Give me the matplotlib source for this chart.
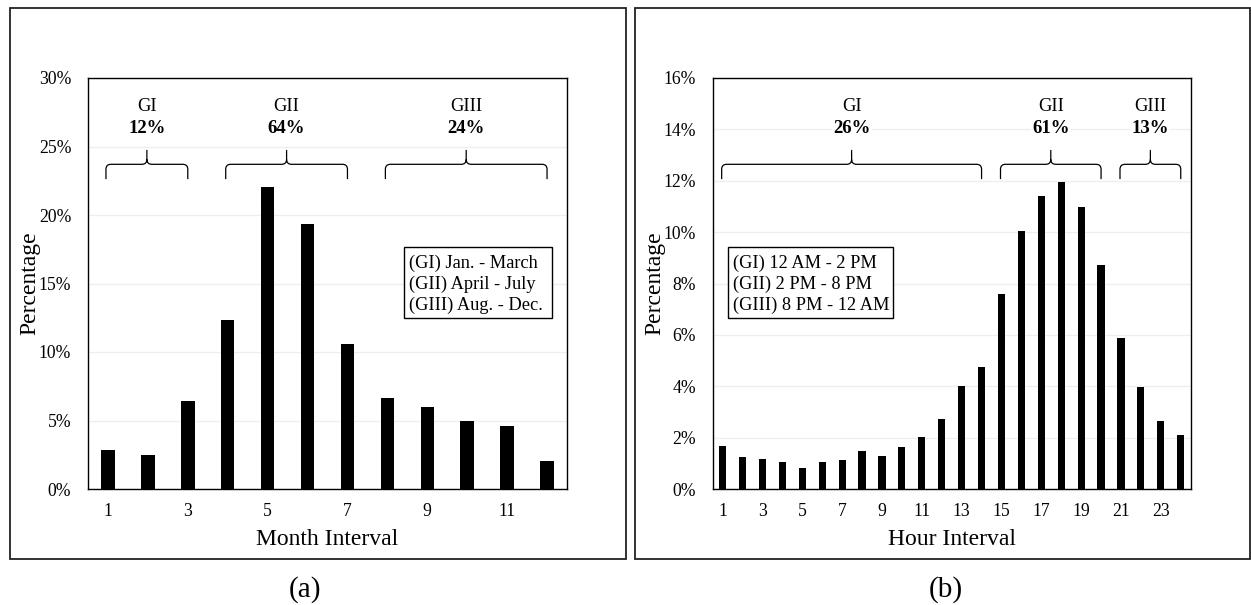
import numpy as np
import matplotlib.pyplot as plt
from matplotlib.path import Path
from matplotlib.patches import PathPatch, Rectangle

plt.rcParams['font.family'] = ['Liberation Serif', 'DejaVu Serif']

# monthly share of events (%)
months = np.arange(1, 13)
month_pct = [2.86, 2.50, 6.43, 12.35, 22.04, 19.33, 10.60, 6.65, 5.95, 4.93, 4.59, 2.01]

# hourly share of events (%)
hours = np.arange(1, 25)
hour_pct = [1.69, 1.23, 1.15, 1.06, 0.80, 1.06, 1.14, 1.49, 1.27, 1.65, 2.02, 2.73,
            4.01, 4.76, 7.58, 10.06, 11.42, 11.95, 10.97, 8.71, 5.87, 3.96, 2.65, 2.09]

# groups: name, first interval, last interval, share label
month_groups = [('GI', 1, 3, '12%'), ('GII', 4, 7, '64%'), ('GIII', 8, 12, '24%')]
hour_groups = [('GI', 1, 14, '26%'), ('GII', 15, 20, '61%'), ('GIII', 21, 24, '13%')]

month_legend = ['(GI) Jan. - March', '(GII) April - July', '(GIII) Aug. - Dec.']
hour_legend = ['(GI) 12 AM - 2 PM', '(GII) 2 PM - 8 PM', '(GIII) 8 PM - 12 AM']

W, H = 1251, 605
fig = plt.figure(figsize=(W / 100, H / 100), dpi=100)


def brace(ax, x0, x1, yb=0.754, yh=0.79, yt=0.825, r_px=5):
    # curly bracket in axes coordinates, x given in data units
    lo, hi = ax.get_xlim()
    pos = ax.get_position()
    rx = r_px / (pos.width * W)
    ry = r_px / (pos.height * H)
    a = (x0 - lo) / (hi - lo)
    b = (x1 - lo) / (hi - lo)
    m = (a + b) / 2
    verts = [(a, yb), (a, yh - ry), (a, yh), (a + rx, yh), (m - rx, yh), (m, yh), (m, yh + ry), (m, yt),
             (b, yb), (b, yh - ry), (b, yh), (b - rx, yh), (m + rx, yh), (m, yh), (m, yh + ry)]
    codes = [Path.MOVETO, Path.LINETO, Path.CURVE3, Path.CURVE3, Path.LINETO, Path.CURVE3, Path.CURVE3, Path.LINETO,
             Path.MOVETO, Path.LINETO, Path.CURVE3, Path.CURVE3, Path.LINETO, Path.CURVE3, Path.CURVE3]
    ax.add_patch(PathPatch(Path(verts, codes), transform=ax.transAxes, fill=False,
                           lw=0.9, color='black', clip_on=False, zorder=4))
    return (x0 + x1) / 2


def panel(rect, x, y, ymax, ystep, xticks, xlabel, groups, legend, leg_box, width):
    ax = fig.add_axes(rect)
    ax.set_xlim(0.5, len(x) + 0.5)
    ax.set_ylim(0, ymax)
    ax.set_yticks(np.arange(0, ymax + 0.01, ystep))
    ax.set_yticklabels([f'{int(v)}%' for v in np.arange(0, ymax + 0.01, ystep)])
    ax.set_xticks(xticks)
    ax.tick_params(length=0, labelsize=12.7)
    ax.tick_params(axis='y', pad=12)
    ax.tick_params(axis='x', pad=10)
    ax.yaxis.grid(True, color='#eeeeee', lw=0.9)
    ax.set_axisbelow(True)
    for s in ax.spines.values():
        s.set_linewidth(1.0)
    ax.bar(x, y, width=width, color='black', zorder=3)
    ax.set_ylabel('Percentage', fontsize=17)
    ax.set_xlabel(xlabel, fontsize=17)
    ax.yaxis.set_label_coords(-0.121, 0.5)
    ax.xaxis.set_label_coords(0.5, -0.124)
    ax.xaxis.label.set_va('center')
    ax.yaxis.label.set_va('center')

    for name, first, last, share in groups:
        xm = brace(ax, first - 0.05, last)
        ax.text(xm, 0.93, name, transform=ax.get_xaxis_transform(), ha='center', va='center',
                fontsize=13.3, bbox=dict(fc='white', ec='none', pad=1), zorder=5)
        ax.text(xm, 0.877, share, transform=ax.get_xaxis_transform(), ha='center', va='center',
                fontsize=13.5, fontweight='bold', bbox=dict(fc='white', ec='none', pad=1), zorder=5)

    x0, x1 = leg_box
    ax.add_patch(Rectangle((x0, 0.416), x1 - x0, 0.173, transform=ax.transAxes,
                           fc='white', ec='black', lw=1.0, zorder=5))
    for i, line in enumerate(legend):
        ax.text(x0 + 0.011, 0.55 - i * 0.051, line, transform=ax.transAxes,
                ha='left', va='center', fontsize=13.2, zorder=6)
    return ax


ax_a = panel([88 / W, 1 - 489 / H, 479 / W, 411 / H], months, month_pct, 30, 5,
             [1, 3, 5, 7, 9, 11], 'Month Interval', month_groups, month_legend, (0.660, 0.969), 0.34)
ax_b = panel([712.7 / W, 1 - 489 / H, 478 / W, 411 / H], hours, hour_pct, 16, 2,
             np.arange(1, 24, 2), 'Hour Interval', hour_groups, hour_legend, (0.031, 0.377), 0.36)

# frames around each panel
for left, right in [(10, 625.5), (635, 1249.5)]:
    fig.patches.append(Rectangle((left / W, 1 - 559 / H), (right - left) / W, (559 - 8) / H,
                                 transform=fig.transFigure, fill=False, ec='#222222', lw=1.3))

fig.text(305 / W, 1 - 590 / H, '(a)', ha='center', va='center', fontsize=21)
fig.text(946 / W, 1 - 590 / H, '(b)', ha='center', va='center', fontsize=21)

fig.savefig('out.png', dpi=100)
